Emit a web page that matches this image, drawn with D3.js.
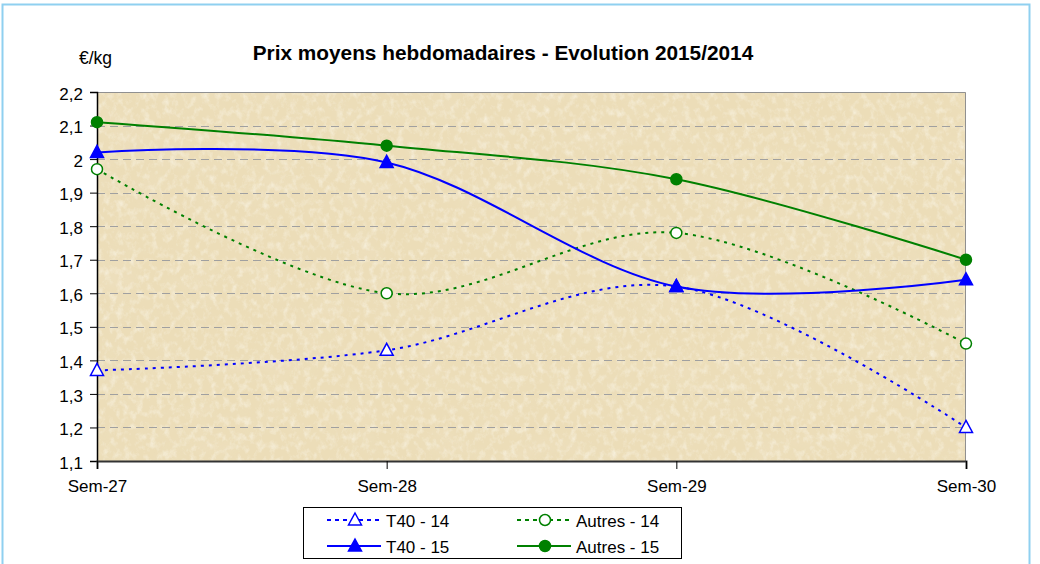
<!DOCTYPE html>
<html>
<head>
<meta charset="utf-8">
<script src="https://cdn.jsdelivr.net/npm/d3@7"></script>
<style>
  body { margin: 0; background: #fff; }
  svg { font-family: "Liberation Sans", Arial, sans-serif; }
</style>
</head>
<body>
<svg id="chart" width="1040" height="564"></svg>
<script>
const weeks = ["Sem-27", "Sem-28", "Sem-29", "Sem-30"];
const t40_14 = [1.37, 1.43, 1.62, 1.2];
const autres_14 = [1.97, 1.6, 1.78, 1.45];
const t40_15 = [2.02, 1.99, 1.62, 1.64];
const autres_15 = [2.11, 2.04, 1.94, 1.7];
const yTicks = [1.1, 1.2, 1.3, 1.4, 1.5, 1.6, 1.7, 1.8, 1.9, 2, 2.1, 2.2];

const series = [
  { name: "T40 - 14", values: t40_14, color: "#0000ff", dashed: true, marker: "triangle", filled: false },
  { name: "Autres - 14", values: autres_14, color: "#008000", dashed: true, marker: "circle", filled: false },
  { name: "T40 - 15", values: t40_15, color: "#0000ff", dashed: false, marker: "triangle", filled: true },
  { name: "Autres - 15", values: autres_15, color: "#008000", dashed: false, marker: "circle", filled: true }
];

const margin = { top: 92, right: 74, bottom: 103, left: 97 },
  width = 1040 - margin.left - margin.right,
  height = 564 - margin.top - margin.bottom;

const root = d3.select("#chart");

// cadre exterieur
root.append("rect")
  .attr("x", 2.5).attr("y", 4.5)
  .attr("width", 1027).attr("height", 570)
  .attr("fill", "none")
  .attr("stroke", "#8fd0f0")
  .attr("stroke-width", 2);

// texture parchemin
const defs = root.append("defs");
const filter = defs.append("filter").attr("id", "paper")
  .attr("x", 0).attr("y", 0).attr("width", "100%").attr("height", "100%");
filter.append("feTurbulence")
  .attr("type", "fractalNoise")
  .attr("baseFrequency", "0.15 0.12")
  .attr("numOctaves", 4)
  .attr("seed", 7)
  .attr("result", "noise");
filter.append("feColorMatrix")
  .attr("in", "noise")
  .attr("type", "matrix")
  .attr("values", "0 0 0 0 0.97  0 0 0 0 0.94  0 0 0 0 0.84  1.3 0 0 0 -0.6")
  .attr("result", "light");
filter.append("feComposite").attr("in", "light").attr("in2", "SourceGraphic").attr("operator", "in");

const filter2 = defs.append("filter").attr("id", "paper2")
  .attr("x", 0).attr("y", 0).attr("width", "100%").attr("height", "100%");
filter2.append("feTurbulence")
  .attr("type", "fractalNoise")
  .attr("baseFrequency", "0.025 0.035")
  .attr("numOctaves", 3)
  .attr("seed", 3)
  .attr("result", "noise");
filter2.append("feColorMatrix")
  .attr("in", "noise")
  .attr("type", "matrix")
  .attr("values", "0 0 0 0 0.86  0 0 0 0 0.76  0 0 0 0 0.55  0.9 0 0 0 -0.4")
  .attr("result", "dark");
filter2.append("feComposite").attr("in", "dark").attr("in2", "SourceGraphic").attr("operator", "in");

const svg = root.append("g")
  .attr("transform", `translate(${margin.left},${margin.top})`);

const x = d3.scalePoint().domain(weeks).range([0, width]);
const y = d3.scaleLinear().domain([1.1, 2.2]).range([height, 0]);

svg.append("rect")
  .attr("width", width).attr("height", height)
  .attr("fill", "#ecddb8");
svg.append("rect")
  .attr("width", width).attr("height", height)
  .attr("fill", "#000")
  .attr("filter", "url(#paper2)");
svg.append("rect")
  .attr("width", width).attr("height", height)
  .attr("fill", "#000")
  .attr("filter", "url(#paper)");

// grille
svg.append("g")
  .selectAll("line")
  .data(yTicks.filter((d) => d > 1.1 && d < 2.2))
  .enter()
  .append("line")
  .attr("x1", 0).attr("x2", width)
  .attr("y1", (d) => Math.round(y(d)) + 0.5)
  .attr("y2", (d) => Math.round(y(d)) + 0.5)
  .attr("stroke", "#a0a0a0")
  .attr("stroke-dasharray", "8,5");

// bordure haut / droite
svg.append("path")
  .attr("d", `M0,0.5H${width - 0.5}V${height}`)
  .attr("fill", "none")
  .attr("stroke", "#909090");

// axe Y
const fmt = (d) => d3.format(".1~f")(d).replace(".", ",");
const yAxis = svg.append("g")
  .call(d3.axisLeft(y).tickValues(yTicks).tickFormat(fmt).tickSize(7).tickPadding(7));
yAxis.select(".domain").attr("stroke", "#000").attr("stroke-width", 1.5);
yAxis.selectAll("line").attr("stroke", "#000");
yAxis.selectAll("text").attr("font-size", "17px").attr("fill", "#000").attr("dy", "0.42em");

// axe X
const xAxis = svg.append("g")
  .attr("transform", `translate(0,${height})`)
  .call(d3.axisBottom(x).tickSize(8).tickPadding(11));
xAxis.select(".domain").attr("stroke", "#333").attr("stroke-width", 2);
xAxis.selectAll("line").attr("stroke", "#000");
xAxis.selectAll("text").attr("font-size", "17px").attr("fill", "#000");

// courbes lissees
const line = d3.line()
  .x((d, i) => x(weeks[i]))
  .y((d) => y(d))
  .curve(d3.curveCatmullRom.alpha(0));

function drawMarker(g, s, cx, cy) {
  const fill = s.filled ? s.color : "#fff";
  if (s.marker === "triangle") {
    g.append("path")
      .attr("d", `M${cx},${cy - 7}L${cx + 6.5},${cy + 5}L${cx - 6.5},${cy + 5}Z`)
      .attr("fill", fill)
      .attr("stroke", s.color)
      .attr("stroke-width", 1.5);
  } else {
    g.append("circle")
      .attr("cx", cx).attr("cy", cy).attr("r", 5.5)
      .attr("fill", fill)
      .attr("stroke", s.color)
      .attr("stroke-width", 1.5);
  }
}

series.forEach((s) => {
  svg.append("path")
    .datum(s.values)
    .attr("d", line)
    .attr("fill", "none")
    .attr("stroke", s.color)
    .attr("stroke-width", 2)
    .attr("stroke-dasharray", s.dashed ? "3,5" : null);
});
series.forEach((s) => {
  const g = svg.append("g");
  s.values.forEach((v, i) => drawMarker(g, s, x(weeks[i]), y(v)));
});

// titres
root.append("text")
  .attr("x", 503).attr("y", 60)
  .attr("text-anchor", "middle")
  .attr("font-size", "20.8px")
  .attr("font-weight", "bold")
  .text("Prix moyens hebdomadaires - Evolution 2015/2014");

root.append("text")
  .attr("x", 79).attr("y", 64)
  .attr("font-size", "17.5px")
  .text("€/kg");

// legende
const legend = root.append("g").attr("transform", "translate(303,507)");
legend.append("rect")
  .attr("x", 0.5).attr("y", 0.5)
  .attr("width", 378).attr("height", 51)
  .attr("fill", "#fff")
  .attr("stroke", "#000");

series.forEach((s, i) => {
  const col = i % 2, row = Math.floor(i / 2);
  const lx = col === 0 ? 24 : 214;
  const ly = row === 0 ? 13 : 39;
  const g = legend.append("g");
  g.append("line")
    .attr("x1", lx).attr("x2", lx + 54)
    .attr("y1", ly).attr("y2", ly)
    .attr("stroke", s.color)
    .attr("stroke-width", 2)
    .attr("stroke-dasharray", s.dashed ? "4,4" : null);
  drawMarker(g, s, lx + 28, ly);
  g.append("text")
    .attr("x", lx + 59).attr("y", ly + 7)
    .attr("font-size", "17px")
    .text(s.name);
});
</script>
</body>
</html>
